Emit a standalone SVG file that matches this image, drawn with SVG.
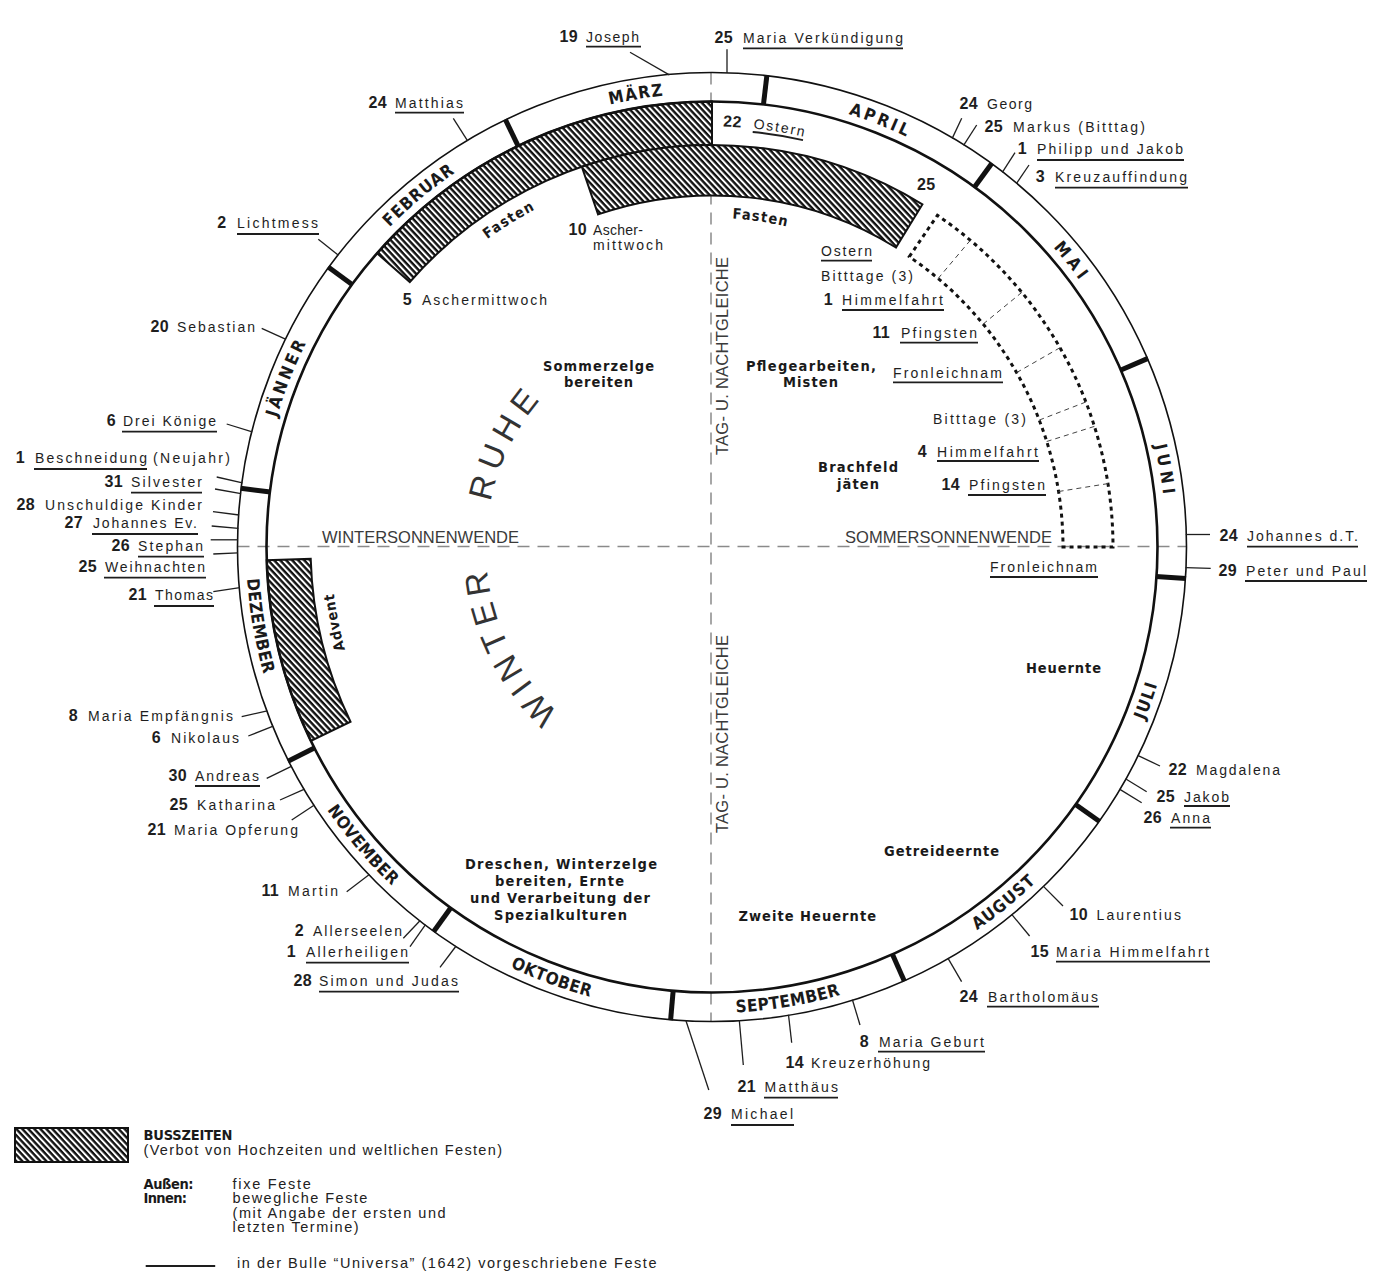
<svg xmlns="http://www.w3.org/2000/svg" width="1378" height="1279" viewBox="0 0 1378 1279">
<defs>
<style>
.t{font-family:"Liberation Sans",Arial,sans-serif;font-size:14px;fill:#1e1e1e}
.n{font-family:"Liberation Sans",Arial,sans-serif;font-size:16px;font-weight:700;fill:#1e1e1e;letter-spacing:0.3px}
.cb{font-family:"Liberation Sans Narrow","DejaVu Sans Condensed","Liberation Sans",sans-serif;font-weight:700;fill:#1a1a1a}
.mo{font-size:17px}
.lb{font-size:14.5px}
.lg{font-family:"Liberation Sans",Arial,sans-serif;font-size:14.5px;fill:#222}
.lgb{font-family:"Liberation Sans Narrow","DejaVu Sans Condensed","Liberation Sans",sans-serif;font-size:14.5px;font-weight:700;fill:#1a1a1a}
.ax{font-family:"Liberation Sans",Arial,sans-serif;font-size:16.5px;fill:#3a3a3a}
.big{font-family:"Liberation Sans",Arial,sans-serif;font-size:33px;fill:#333}
.ul{stroke:#1e1e1e;stroke-width:1.8}
.ld{stroke:#1e1e1e;stroke-width:1.3;fill:none}
.dash{stroke:#8a8a8a;stroke-width:1.5;stroke-dasharray:12 8;fill:none}
.sep{stroke:#111;stroke-width:5}
.band{fill:url(#hatch);stroke:#111;stroke-width:2}
.dot{fill:none;stroke:#111;stroke-width:3;stroke-dasharray:4 4}
.cn{stroke:#444;stroke-width:1;stroke-dasharray:5 4}
</style>
<pattern id="hatch" patternUnits="userSpaceOnUse" width="4.4" height="10" patternTransform="rotate(-43)">
<rect width="4.4" height="10" fill="#111"/>
<rect width="2" height="10" fill="#fff"/>
</pattern>
<path id="pcw454" d="M712,1001 A454,454 0 1 1 712,93 A454,454 0 1 1 712,1001"/>
<path id="pccw466" d="M712,81 A466,466 0 1 0 712,1013 A466,466 0 1 0 712,81"/>
<path id="pcw420" d="M712,967.5 A420.5,420.5 0 1 1 712,126.5 A420.5,420.5 0 1 1 712,967.5"/>
<path id="pcw381" d="M712,928 A381,381 0 1 1 712,166 A381,381 0 1 1 712,928"/>
<path id="pcw329" d="M712,876 A329,329 0 1 1 712,218 A329,329 0 1 1 712,876"/>
<path id="pcw226" d="M712,773 A226,226 0 1 1 712,321 A226,226 0 1 1 712,773"/>
</defs>
<rect width="1378" height="1279" fill="#fff"/>

<g id="axes">
<line class="dash" x1="711" y1="72.5" x2="711" y2="1021.5"/>
<line class="dash" x1="237.5" y1="546.5" x2="1186.5" y2="546.5"/>
<text class="ax" x="322" y="542.5" textLength="197">WINTERSONNENWENDE</text>
<text class="ax" x="845" y="542.5" textLength="207">SOMMERSONNENWENDE</text>
<text class="ax" transform="translate(728,455) rotate(-90)" textLength="198">TAG- U. NACHTGLEICHE</text>
<text class="ax" transform="translate(728,833) rotate(-90)" textLength="198">TAG- U. NACHTGLEICHE</text>
</g>

<g id="busszeiten">
<path id="fasten1" class="band" d="M377.1,253.3 A445.5,445.5 0 0 1 712,101.5 L712,145 A402,402 0 0 0 409.8,282 Z"/>
<path id="fasten2" class="band" d="M581.8,166.7 A402,402 0 0 1 922.4,204.4 L895.9,247.5 A351.5,351.5 0 0 0 598.1,214.4 Z"/>
<path id="advent" class="band" d="M310.9,740.9 A445.5,445.5 0 0 1 266.7,560.2 L310.7,558.9 A401.5,401.5 0 0 0 350.5,721.7 Z"/>
<text class="cb lb"><textPath href="#pcw381" startOffset="984.2" text-anchor="middle" textLength="56">Fasten</textPath></text>
<text class="cb lb"><textPath href="#pcw329" startOffset="1080.9" text-anchor="middle" textLength="55">Fasten</textPath></text>
<text class="cb lb"><textPath href="#pcw381" startOffset="522.7" text-anchor="middle" textLength="57">Advent</textPath></text>
</g>

<g id="ring">
<circle cx="712" cy="547" r="474.5" fill="none" stroke="#111" stroke-width="1.6"/>
<circle cx="712" cy="547" r="445.5" fill="none" stroke="#111" stroke-width="2.6"/>
<line class="sep" x1="518.3" y1="146.4" x2="505.3" y2="119.4"/>
<line class="sep" x1="763.4" y1="105" x2="766.9" y2="75.2"/>
<line class="sep" x1="974.2" y1="187.4" x2="991.9" y2="163.2"/>
<line class="sep" x1="1120.4" y1="370.3" x2="1148" y2="358.4"/>
<line class="sep" x1="1156" y1="576.5" x2="1186" y2="578.5"/>
<line class="sep" x1="1075.2" y1="804.2" x2="1099.6" y2="821.5"/>
<line class="sep" x1="892.3" y1="953.9" x2="904.4" y2="981.3"/>
<line class="sep" x1="673.2" y1="990.3" x2="670.6" y2="1020.2"/>
<line class="sep" x1="451" y1="907.5" x2="433.5" y2="931.8"/>
<line class="sep" x1="314.8" y1="747.7" x2="288" y2="761.2"/>
<line class="sep" x1="270.4" y1="492" x2="240.6" y2="488.3"/>
<line class="sep" x1="352.4" y1="284.8" x2="328.2" y2="267.1"/>
<g class="cb mo">
<text><textPath href="#pcw454" startOffset="884.3" text-anchor="middle" textLength="80">JÄNNER</textPath></text>
<text><textPath href="#pcw454" startOffset="1110.5" text-anchor="middle" textLength="85">FEBRUAR</textPath></text>
<text><textPath href="#pcw454" startOffset="1350.2" text-anchor="middle" textLength="54">MÄRZ</textPath></text>
<text><textPath href="#pcw454" startOffset="1595.9" text-anchor="middle" textLength="62">APRIL</textPath></text>
<text><textPath href="#pcw454" startOffset="1833.1" text-anchor="middle" textLength="42">MAI</textPath></text>
<text><textPath href="#pcw454" startOffset="2061.8" text-anchor="middle" textLength="50">JUNI</textPath></text>
<text><textPath href="#pccw466" startOffset="812.1" text-anchor="middle" textLength="97">DEZEMBER</textPath></text>
<text><textPath href="#pccw466" startOffset="1061" text-anchor="middle" textLength="100">NOVEMBER</textPath></text>
<text><textPath href="#pccw466" startOffset="1297.6" text-anchor="middle" textLength="85">OKTOBER</textPath></text>
<text><textPath href="#pccw466" startOffset="1540.8" text-anchor="middle" textLength="106">SEPTEMBER</textPath></text>
<text><textPath href="#pccw466" startOffset="1783.6" text-anchor="middle" textLength="76">AUGUST</textPath></text>
<text><textPath href="#pccw466" startOffset="2036.9" text-anchor="middle" textLength="38">JULI</textPath></text>
</g>
</g>

<g id="bewegliche">
<path class="dot" d="M909.3,256.7 L937.4,215.3 A401,401 0 0 1 1113,547 L1063,547 A351,351 0 0 0 909.3,256.7 Z"/>
<line class="cn" x1="938.1" y1="278.5" x2="970.3" y2="240.3"/>
<line class="cn" x1="983.1" y1="324.1" x2="1021.8" y2="292.4"/>
<line class="cn" x1="1016.6" y1="372.6" x2="1060" y2="347.7"/>
<line class="cn" x1="1039.2" y1="420.1" x2="1085.9" y2="402"/>
<line class="cn" x1="1046.7" y1="441.5" x2="1094.4" y2="426.4"/>
<line class="cn" x1="1058.6" y1="491.5" x2="1108" y2="483.6"/>
</g>

<g id="connectors">
<line class="ld" x1="669.3" y1="74.9" x2="630" y2="52.3"/>
<line class="ld" x1="727" y1="73" x2="727" y2="49.3"/>
<line class="ld" x1="952.2" y1="138.4" x2="961.7" y2="118.3"/>
<line class="ld" x1="963.6" y1="145.3" x2="976.7" y2="125"/>
<line class="ld" x1="1002.3" y1="172.3" x2="1015" y2="152.7"/>
<line class="ld" x1="1016.4" y1="183.6" x2="1029" y2="165"/>
<line class="ld" x1="1185.8" y1="534.5" x2="1210" y2="534.5"/>
<line class="ld" x1="1185.6" y1="567.6" x2="1210.7" y2="568.3"/>
<line class="ld" x1="1137.7" y1="755.4" x2="1160" y2="766"/>
<line class="ld" x1="1125.5" y1="778.7" x2="1146.7" y2="791.7"/>
<line class="ld" x1="1119.5" y1="789.1" x2="1141.7" y2="802.7"/>
<line class="ld" x1="1043.2" y1="886.1" x2="1063" y2="906"/>
<line class="ld" x1="1011.7" y1="914.3" x2="1029.6" y2="936"/>
<line class="ld" x1="947.9" y1="958.1" x2="961.6" y2="981.7"/>
<line class="ld" x1="852.4" y1="999.7" x2="860" y2="1025"/>
<line class="ld" x1="788.5" y1="1014.8" x2="791.7" y2="1042.7"/>
<line class="ld" x1="739.3" y1="1020.2" x2="743.3" y2="1065"/>
<line class="ld" x1="685.8" y1="1020.3" x2="708.8" y2="1090"/>
<line class="ld" x1="456.1" y1="946" x2="440" y2="967.3"/>
<line class="ld" x1="425.5" y1="924.6" x2="410" y2="946.7"/>
<line class="ld" x1="420.2" y1="920.5" x2="403.3" y2="938.3"/>
<line class="ld" x1="369.3" y1="874.5" x2="346.7" y2="891.7"/>
<line class="ld" x1="314.4" y1="805" x2="291.7" y2="820"/>
<line class="ld" x1="304.5" y1="789.2" x2="280" y2="800"/>
<line class="ld" x1="291.8" y1="766.2" x2="266.7" y2="778.3"/>
<line class="ld" x1="273.2" y1="726.2" x2="248.3" y2="736"/>
<line class="ld" x1="267.2" y1="710.9" x2="241.7" y2="716.7"/>
<line class="ld" x1="239.8" y1="587.7" x2="213.3" y2="591.7"/>
<line class="ld" x1="238" y1="552.8" x2="213.3" y2="554"/>
<line class="ld" x1="238" y1="539.8" x2="210.7" y2="539.8"/>
<line class="ld" x1="238.4" y1="528.3" x2="211.7" y2="526"/>
<line class="ld" x1="239.1" y1="515" x2="213" y2="511.7"/>
<line class="ld" x1="241" y1="493.7" x2="215" y2="489"/>
<line class="ld" x1="242.4" y1="482.8" x2="216.7" y2="477"/>
<line class="ld" x1="252.2" y1="431.9" x2="226.7" y2="424"/>
<line class="ld" x1="286" y1="339.3" x2="261.7" y2="328.3"/>
<line class="ld" x1="338.4" y1="255.3" x2="318.3" y2="239.3"/>
<line class="ld" x1="467.6" y1="140.9" x2="453.3" y2="118.3"/>
</g>

<g id="f-joseph"><text class="n" x="578" y="41.5" text-anchor="end">19</text><text class="t" x="586" y="41.5" textLength="53">Joseph</text><line class="ul" x1="586" y1="46.7" x2="641" y2="46.7"/></g>
<g id="f-mariaverkuendigung"><text class="n" x="733" y="42.5" text-anchor="end">25</text><text class="t" x="743" y="42.5" textLength="160">Maria Verkündigung</text><line class="ul" x1="743" y1="48.3" x2="903" y2="48.3"/></g>
<g id="f-matthias"><text class="n" x="387" y="108" text-anchor="end">24</text><text class="t" x="395" y="108" textLength="68">Matthias</text><line class="ul" x1="395" y1="112.7" x2="464" y2="112.7"/></g>
<g id="f-lichtmess"><text class="n" x="226.5" y="228" text-anchor="end">2</text><text class="t" x="237" y="228" textLength="81">Lichtmess</text><line class="ul" x1="237" y1="234" x2="319" y2="234"/></g>
<g id="f-sebastian"><text class="n" x="169" y="331.5" text-anchor="end">20</text><text class="t" x="177" y="331.5" textLength="78">Sebastian</text></g>
<g id="f-dreikoenige"><text class="n" x="116" y="426" text-anchor="end">6</text><text class="t" x="123" y="426" textLength="93">Drei Könige</text><line class="ul" x1="122" y1="431.7" x2="217" y2="431.7"/></g>
<g id="f-beschneidung"><text class="n" x="25" y="463" text-anchor="end">1</text><text class="t" x="35" y="463" textLength="112">Beschneidung</text><text class="t" x="153" y="463" textLength="77">(Neujahr)</text><line class="ul" x1="34" y1="469" x2="147" y2="469"/></g>
<g id="f-silvester"><text class="n" x="123" y="487" text-anchor="end">31</text><text class="t" x="131" y="487" textLength="71">Silvester</text><line class="ul" x1="131" y1="492.7" x2="202" y2="492.7"/></g>
<g id="f-unschuldigekinder"><text class="n" x="35" y="510" text-anchor="end">28</text><text class="t" x="45" y="510" textLength="157">Unschuldige Kinder</text></g>
<g id="f-johannesev"><text class="n" x="83" y="528" text-anchor="end">27</text><text class="t" x="93" y="528" textLength="104">Johannes Ev.</text><line class="ul" x1="92" y1="534" x2="198" y2="534"/></g>
<g id="f-stephan"><text class="n" x="130" y="551" text-anchor="end">26</text><text class="t" x="138" y="551" textLength="65">Stephan</text><line class="ul" x1="138" y1="556.7" x2="204" y2="556.7"/></g>
<g id="f-weihnachten"><text class="n" x="97" y="572" text-anchor="end">25</text><text class="t" x="105" y="572" textLength="100">Weihnachten</text><line class="ul" x1="104" y1="577.7" x2="206" y2="577.7"/></g>
<g id="f-thomas"><text class="n" x="147" y="600" text-anchor="end">21</text><text class="t" x="155" y="600" textLength="58">Thomas</text><line class="ul" x1="154" y1="606" x2="214" y2="606"/></g>
<g id="f-mariaempfaengnis"><text class="n" x="78" y="721" text-anchor="end">8</text><text class="t" x="88" y="721" textLength="145">Maria Empfängnis</text></g>
<g id="f-nikolaus"><text class="n" x="161" y="743" text-anchor="end">6</text><text class="t" x="171" y="743" textLength="68">Nikolaus</text></g>
<g id="f-andreas"><text class="n" x="187" y="781" text-anchor="end">30</text><text class="t" x="195" y="781" textLength="64">Andreas</text><line class="ul" x1="195" y1="786" x2="260" y2="786"/></g>
<g id="f-katharina"><text class="n" x="188" y="810" text-anchor="end">25</text><text class="t" x="197" y="810" textLength="78">Katharina</text></g>
<g id="f-mariaopferung"><text class="n" x="166" y="835" text-anchor="end">21</text><text class="t" x="174" y="835" textLength="124">Maria Opferung</text></g>
<g id="f-martin"><text class="n" x="279" y="896" text-anchor="end">11</text><text class="t" x="288" y="896" textLength="50">Martin</text></g>
<g id="f-allerseelen"><text class="n" x="304" y="936" text-anchor="end">2</text><text class="t" x="313" y="936" textLength="89">Allerseelen</text></g>
<g id="f-allerheiligen"><text class="n" x="296" y="956.5" text-anchor="end">1</text><text class="t" x="306" y="956.5" textLength="102">Allerheiligen</text><line class="ul" x1="306" y1="962.7" x2="409" y2="962.7"/></g>
<g id="f-simonjudas"><text class="n" x="312" y="986" text-anchor="end">28</text><text class="t" x="319" y="986" textLength="139">Simon und Judas</text><line class="ul" x1="319" y1="991.7" x2="459" y2="991.7"/></g>
<g id="f-michael"><text class="n" x="722" y="1119" text-anchor="end">29</text><text class="t" x="731" y="1119" textLength="62">Michael</text><line class="ul" x1="731" y1="1125" x2="794" y2="1125"/></g>
<g id="f-matthaeus"><text class="n" x="756" y="1091.5" text-anchor="end">21</text><text class="t" x="764.5" y="1091.5" textLength="73.5">Matthäus</text><line class="ul" x1="764" y1="1097.7" x2="838" y2="1097.7"/></g>
<g id="f-kreuzerhoehung"><text class="n" x="804" y="1068" text-anchor="end">14</text><text class="t" x="811" y="1068" textLength="119">Kreuzerhöhung</text></g>
<g id="f-mariageburt"><text class="n" x="869" y="1046.5" text-anchor="end">8</text><text class="t" x="879" y="1046.5" textLength="105">Maria Geburt</text><line class="ul" x1="878" y1="1051.7" x2="985" y2="1051.7"/></g>
<g id="f-bartholomaeus"><text class="n" x="978" y="1001.5" text-anchor="end">24</text><text class="t" x="988" y="1001.5" textLength="110">Bartholomäus</text><line class="ul" x1="987" y1="1006.7" x2="1099" y2="1006.7"/></g>
<g id="f-mariahimmelfahrt"><text class="n" x="1049" y="956.5" text-anchor="end">15</text><text class="t" x="1056" y="956.5" textLength="153">Maria Himmelfahrt</text><line class="ul" x1="1056" y1="961.7" x2="1210" y2="961.7"/></g>
<g id="f-laurentius"><text class="n" x="1088" y="920" text-anchor="end">10</text><text class="t" x="1096.5" y="920" textLength="84.5">Laurentius</text></g>
<g id="f-anna"><text class="n" x="1162" y="823" text-anchor="end">26</text><text class="t" x="1171" y="823" textLength="39">Anna</text><line class="ul" x1="1170" y1="827.7" x2="1211" y2="827.7"/></g>
<g id="f-jakob"><text class="n" x="1175" y="801.5" text-anchor="end">25</text><text class="t" x="1184" y="801.5" textLength="45">Jakob</text><line class="ul" x1="1184" y1="806" x2="1230" y2="806"/></g>
<g id="f-magdalena"><text class="n" x="1187" y="775" text-anchor="end">22</text><text class="t" x="1196" y="775" textLength="84">Magdalena</text></g>
<g id="f-peterpaul"><text class="n" x="1237" y="576" text-anchor="end">29</text><text class="t" x="1246" y="576" textLength="120">Peter und Paul</text><line class="ul" x1="1245" y1="581" x2="1367" y2="581"/></g>
<g id="f-johannesdt"><text class="n" x="1238" y="540.5" text-anchor="end">24</text><text class="t" x="1247" y="540.5" textLength="111">Johannes d.T.</text><line class="ul" x1="1247" y1="546.7" x2="1358" y2="546.7"/></g>
<g id="f-kreuzauffindung"><text class="n" x="1045" y="181.5" text-anchor="end">3</text><text class="t" x="1055" y="181.5" textLength="132">Kreuzauffindung</text><line class="ul" x1="1055" y1="187.7" x2="1188" y2="187.7"/></g>
<g id="f-philippjakob"><text class="n" x="1027" y="154" text-anchor="end">1</text><text class="t" x="1037" y="154" textLength="146">Philipp und Jakob</text><line class="ul" x1="1037" y1="160" x2="1184" y2="160"/></g>
<g id="f-markus"><text class="n" x="1003" y="132" text-anchor="end">25</text><text class="t" x="1013" y="132" textLength="132">Markus (Bitttag)</text></g>
<g id="f-georg"><text class="n" x="978" y="109" text-anchor="end">24</text><text class="t" x="987" y="109" textLength="45">Georg</text></g>

<g id="m-ostern22"><text class="t"><textPath href="#pcw420" startOffset="1332"><tspan class="n">22</tspan></textPath></text><text class="t"><textPath href="#pcw420" startOffset="1362.1" textLength="51">Ostern</textPath></text><path class="ul" fill="none" d="M752.7,132 A417,417 0 0 1 803,140.1"/></g>
<g id="m-25"><text class="n" x="917" y="190">25</text></g>
<g id="m-aschermittwoch10"><text class="n" x="587" y="235" text-anchor="end">10</text><text class="t" x="593" y="235" textLength="50">Ascher-</text><text class="t" x="593" y="250" textLength="70">mittwoch</text></g>
<g id="m-aschermittwoch5"><text class="n" x="412" y="305" text-anchor="end">5</text><text class="t" x="422" y="305" textLength="125">Aschermittwoch</text></g>
<g id="m-ostern"><text class="t" x="821" y="256" textLength="51">Ostern</text><line class="ul" x1="821" y1="260.7" x2="872" y2="260.7"/></g>
<g id="m-bitttage1"><text class="t" x="821" y="280.5" textLength="92">Bitttage (3)</text></g>
<g id="m-himmelfahrt1"><text class="n" x="833" y="305" text-anchor="end">1</text><text class="t" x="842" y="305" textLength="101">Himmelfahrt</text><line class="ul" x1="842" y1="310" x2="944" y2="310"/></g>
<g id="m-pfingsten11"><text class="n" x="890" y="337.5" text-anchor="end">11</text><text class="t" x="901" y="337.5" textLength="76">Pfingsten</text><line class="ul" x1="900" y1="342.7" x2="978" y2="342.7"/></g>
<g id="m-fronleichnam1"><text class="t" x="893" y="378" textLength="109">Fronleichnam</text><line class="ul" x1="893" y1="382.3" x2="1003" y2="382.3"/></g>
<g id="m-bitttage2"><text class="t" x="933" y="423.5" textLength="93">Bitttage (3)</text></g>
<g id="m-himmelfahrt4"><text class="n" x="927" y="456.5" text-anchor="end">4</text><text class="t" x="937" y="456.5" textLength="101">Himmelfahrt</text><line class="ul" x1="937" y1="461" x2="1039" y2="461"/></g>
<g id="m-pfingsten14"><text class="n" x="960" y="490" text-anchor="end">14</text><text class="t" x="969" y="490" textLength="76">Pfingsten</text><line class="ul" x1="968" y1="495" x2="1046" y2="495"/></g>
<g id="m-fronleichnam2"><text class="t" x="990" y="571.5" textLength="107">Fronleichnam</text><line class="ul" x1="990" y1="577" x2="1098" y2="577"/></g>

<g id="a-sommerzelge"><text class="cb lb" x="543" y="370.5" textLength="111">Sommerzelge</text><text class="cb lb" x="564" y="387" textLength="69">bereiten</text></g>
<g id="a-pflegearbeiten"><text class="cb lb" x="746" y="371" textLength="130">Pflegearbeiten,</text><text class="cb lb" x="783" y="387" textLength="55">Misten</text></g>
<g id="a-brachfeld"><text class="cb lb" x="818" y="472" textLength="80">Brachfeld</text><text class="cb lb" x="837" y="489" textLength="42">jäten</text></g>
<g id="a-heuernte"><text class="cb lb" x="1026" y="673" textLength="75">Heuernte</text></g>
<g id="a-getreideernte"><text class="cb lb" x="884" y="856" textLength="115">Getreideernte</text></g>
<g id="a-zweiteheuernte"><text class="cb lb" x="738.5" y="921" textLength="137.5">Zweite Heuernte</text></g>
<g id="a-dreschen"><text class="cb lb" x="465" y="869" textLength="192">Dreschen, Winterzelge</text><text class="cb lb" x="495" y="886" textLength="129">bereiten, Ernte</text><text class="cb lb" x="470" y="903" textLength="180">und Verarbeitung der</text><text class="cb lb" x="494" y="920" textLength="133">Spezialkulturen</text></g>
<g id="a-winterruhe"><text class="big"><textPath href="#pcw226" startOffset="249.9" text-anchor="middle" textLength="163">WINTER</textPath></text><text class="big"><textPath href="#pcw226" startOffset="457.5" text-anchor="middle" textLength="114">RUHE</textPath></text></g>

<g id="legend">
<rect class="band" x="15" y="1128" width="113" height="34"/>
<text class="lgb" x="143.5" y="1140" textLength="89">BUSSZEITEN</text>
<text class="lg" x="143.5" y="1155" textLength="358.5">(Verbot von Hochzeiten und weltlichen Festen)</text>
<text class="lgb" x="143.5" y="1189" textLength="50">Außen:</text>
<text class="lg" x="232.6" y="1189" textLength="78.3">fixe Feste</text>
<text class="lgb" x="143.5" y="1203" textLength="43.5">Innen:</text>
<text class="lg" x="232.6" y="1203" textLength="134.8">bewegliche Feste</text>
<text class="lg" x="232.6" y="1218" textLength="213">(mit Angabe der ersten und</text>
<text class="lg" x="232.6" y="1232" textLength="126">letzten Termine)</text>
<line x1="145.7" y1="1266" x2="215.2" y2="1266" stroke="#1e1e1e" stroke-width="2"/>
<text class="lg" x="237" y="1268" textLength="419.5">in der Bulle “Universa” (1642) vorgeschriebene Feste</text>
</g>
</svg>
